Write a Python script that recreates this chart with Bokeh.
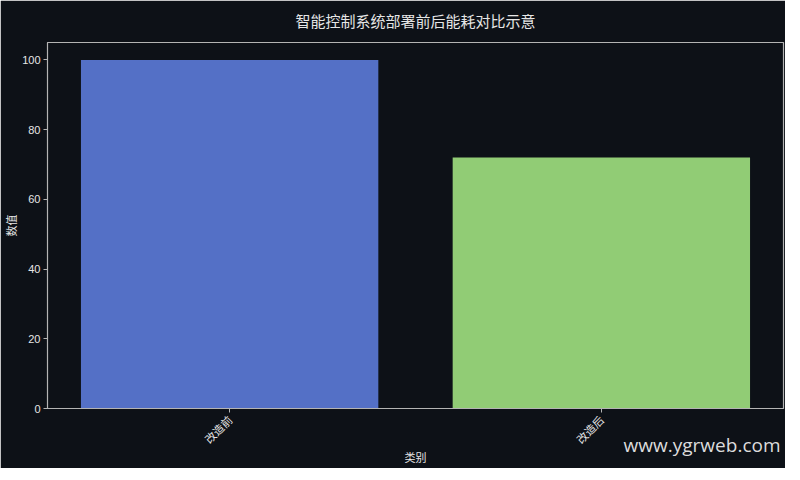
import math
from bokeh.plotting import figure
from bokeh.models import ColumnDataSource, Title, FactorRange, Range1d, FixedTicker
from bokeh.embed import file_html
from bokeh.resources import INLINE

categories = ["改造前", "改造后"]
values = [100, 72]
colors = ["#5470c6", "#91cc75"]
title_text = "智能控制系统部署前后能耗对比示意"
x_label = "类别"
y_label = "数值"
y_ticks = [0, 20, 40, 60, 80, 100]
watermark = "www.ygrweb.com"

BG = "#0d1117"
FG = "#e6e6e6"
SPINE = "#b4b4b4"
CJK = "Noto Sans CJK SC"

src = ColumnDataSource(dict(cat=categories, val=values, color=colors))

p = figure(
    x_range=FactorRange(factors=categories, range_padding=-0.01),
    y_range=Range1d(0, 105),
    width=784, height=464,
    frame_width=736, frame_height=366,
    min_border_left=46, min_border_top=42, min_border_right=2, min_border_bottom=56,
    output_backend="svg", toolbar_location=None,
    background_fill_color=BG, border_fill_color=BG,
    title=title_text,
)
p.vbar(x="cat", top="val", width=0.8, color="color", source=src, line_color=None)

p.title.align = "center"
p.title.vertical_align = "top"
p.title.text_color = FG
p.title.text_font = CJK
p.title.text_font_size = "15px"
p.title.text_font_style = "normal"
p.title.standoff = 19

p.grid.visible = False
p.outline_line_color = SPINE
p.outline_line_width = 1.2

for ax in (p.xaxis[0], p.yaxis[0]):
    ax.axis_line_color = SPINE
    ax.major_tick_line_color = SPINE
    ax.minor_tick_line_color = None
    ax.major_tick_in = 0
    ax.major_tick_out = 4
    ax.major_label_text_color = FG
    ax.major_label_text_font_size = "11px"
    ax.axis_label_text_color = FG
    ax.axis_label_text_font_size = "11px"
    ax.axis_label_text_font_style = "normal"
    ax.axis_label_text_font = CJK

p.yaxis[0].ticker = FixedTicker(ticks=y_ticks)
p.yaxis[0].major_label_text_font = "Liberation Sans"
p.yaxis[0].axis_label = y_label
p.yaxis[0].major_label_standoff = 3
p.yaxis[0].axis_label_standoff = 0
p.xaxis[0].axis_label = x_label
p.xaxis[0].major_label_text_font = CJK
p.xaxis[0].major_label_orientation = math.pi / 4
p.xaxis[0].major_label_standoff = 5
p.xaxis[0].axis_label_standoff = -6

wm = Title(text=watermark, align="right", vertical_align="top", offset=3,
           standoff=-74, text_color="#dcdcdc", text_font="Open Sans",
           text_font_size="19px", text_font_style="normal")
p.add_layout(wm, "below")

open("out.html", "w").write(file_html(p, INLINE))
